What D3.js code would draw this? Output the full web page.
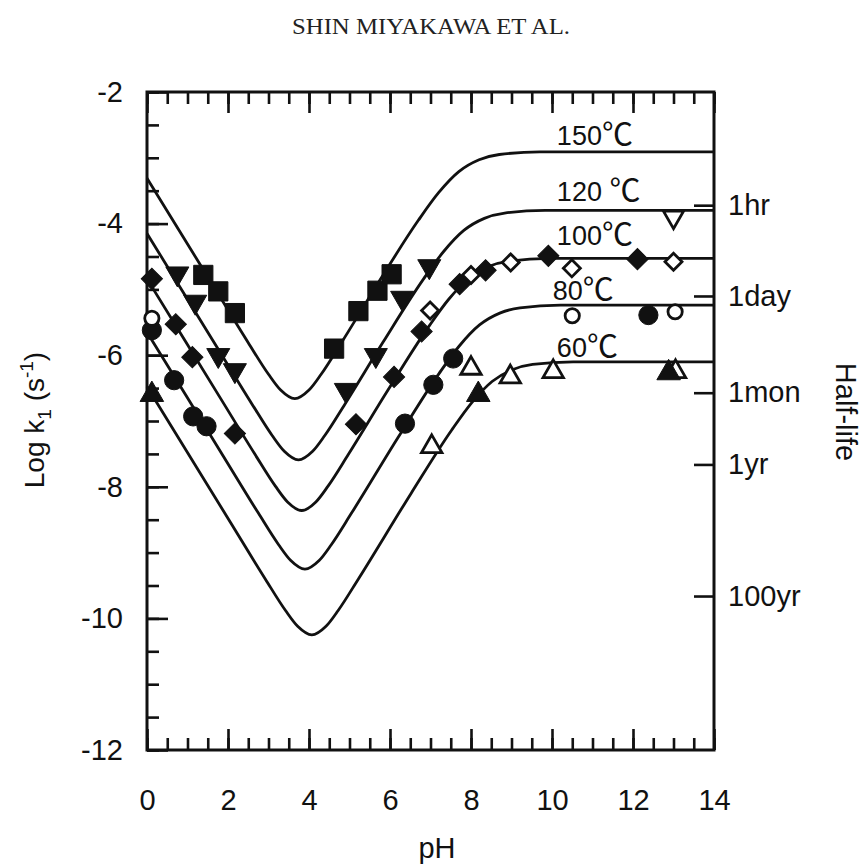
<!DOCTYPE html>
<html lang="en">
  <head>
    <meta charset="UTF-8" />
    <title>Log k1 vs pH</title>
    <style>
      body {
        margin: 0;
        background: #fff;
      }
      svg text {
        font-family: "Liberation Sans", Arial, sans-serif;
        fill: #111;
      }
      .title {
        font-family: "Liberation Serif", "Times New Roman", serif !important;
      }
    </style>
  </head>
  <body>
    <script src="https://d3js.org/d3.v7.min.js"></script>
    <svg id="chart" width="862" height="867"></svg>
    <script>
      // fitted curves, [pH, log k1]
      var curve150 = [[0,-3.31],[1.65,-4.96],[2.5,-5.81],[3.0,-6.29],[3.3,-6.53],[3.65,-6.66],[4.0,-6.53],[4.3,-6.29],[4.8,-5.81],[5.7,-4.91],[6.7,-3.95],[7.2,-3.53],[7.7,-3.21],[8.2,-3.03],[8.7,-2.95],[9.7,-2.91],[14,-2.91]];
      var curve120 = [[0,-4.15],[1.74,-5.89],[2.59,-6.74],[3.09,-7.22],[3.39,-7.46],[3.74,-7.59],[4.09,-7.46],[4.39,-7.22],[4.89,-6.74],[5.83,-5.8],[6.83,-4.84],[7.33,-4.42],[7.83,-4.1],[8.33,-3.92],[8.83,-3.84],[9.83,-3.8],[14,-3.8]];
      var curve100 = [[0,-4.84],[1.82,-6.66],[2.67,-7.51],[3.17,-7.99],[3.47,-8.23],[3.82,-8.36],[4.17,-8.23],[4.47,-7.99],[4.97,-7.51],[5.95,-6.53],[6.95,-5.57],[7.45,-5.15],[7.95,-4.83],[8.45,-4.65],[8.95,-4.57],[9.95,-4.53],[14,-4.53]];
      var curve80 = [[0,-5.65],[1.9,-7.55],[2.75,-8.4],[3.25,-8.88],[3.55,-9.12],[3.9,-9.25],[4.25,-9.12],[4.55,-8.88],[5.05,-8.4],[6.21,-7.24],[7.21,-6.28],[7.71,-5.86],[8.21,-5.54],[8.71,-5.36],[9.21,-5.28],[10.21,-5.24],[14,-5.24]];
      var curve60 = [[0,-6.48],[2.07,-8.55],[2.92,-9.4],[3.42,-9.88],[3.72,-10.12],[4.07,-10.25],[4.42,-10.12],[4.72,-9.88],[5.22,-9.4],[6.52,-8.1],[7.52,-7.14],[8.02,-6.72],[8.52,-6.4],[9.02,-6.22],[9.52,-6.14],[10.52,-6.1],[14,-6.1]];

      var curveTemps = ["150", "120 ", "100", "80", "60"];
      var labelPH = [10.12, 10.12, 10.12, 10.02, 10.12];
      var labelLogK = [-2.8, -3.66, -4.33, -5.16, -6.03];

      // measured points, [pH, log k1]
      var sq150 = [[1.39,-4.78],[1.76,-5.03],[2.17,-5.36],[4.62,-5.9],[5.22,-5.33],[5.69,-5.02],[6.04,-4.77]];
      var triDown120 = [[0.75,-4.76],[1.19,-5.19],[1.76,-6.0],[2.17,-6.23],[4.91,-6.53],[5.65,-6.0],[6.3,-5.13],[6.97,-4.65]];
      var triDownOpen120 = [[13.0,-3.9]];
      var dia100 = [[0.12,-4.84],[0.71,-5.53],[1.12,-6.03],[2.17,-7.19],[5.16,-7.05],[6.1,-6.33],[6.78,-5.64],[7.72,-4.92],[8.36,-4.71],[9.91,-4.49],[12.11,-4.54]];
      var diaOpen100 = [[6.99,-5.32],[8.0,-4.78],[8.98,-4.59],[10.49,-4.68],[13.0,-4.58]];
      var dot80 = [[0.12,-5.62],[0.67,-6.38],[1.14,-6.93],[1.47,-7.08],[6.37,-7.04],[7.07,-6.45],[7.56,-6.05],[12.38,-5.39]];
      var dotOpen80 = [[0.12,-5.44],[10.5,-5.4],[13.04,-5.34]];
      var triOpen60 = [[7.03,-7.39],[8.0,-6.2],[8.97,-6.33],[10.03,-6.25],[13.05,-6.25]];
      var tri60 = [[0.12,-6.6],[8.18,-6.6],[12.88,-6.27]];

      // half-life marks on the right axis (log k1 = log(ln2 / t))
      var halfLifeK = [-3.72, -5.1, -6.57, -7.66, -9.66];
      var halfLifeLabels = ["1hr", "1day", "1mon", "1yr", "100yr"];

      var svg = d3.select("#chart");
      var plotLeft = 147, plotRight = 714, plotTop = 92, plotBottom = 750;

      var x = d3.scaleLinear().domain([0, 14]).range([plotLeft, plotRight]);
      var y = d3.scaleLinear().domain([-12, -2]).range([plotBottom, plotTop]);

      // title
      svg.append("text")
        .attr("class", "title")
        .attr("x", 431)
        .attr("y", 34)
        .attr("text-anchor", "middle")
        .attr("textLength", 278)
        .attr("lengthAdjust", "spacingAndGlyphs")
        .style("font-size", "24px")
        .style("fill", "#222")
        .text("SHIN MIYAKAWA ET AL.");

      // axes: minor ticks every 0.5, major every 2, all pointing inward
      var minorX = d3.range(0, 14.01, 0.5);
      var minorY = d3.range(-12, -1.99, 0.5);
      var majorX = d3.range(0, 14.01, 2);
      var majorY = d3.range(-12, -1.99, 2);

      function styleAxis(g) {
        g.select(".domain").remove();
        g.selectAll(".tick line").attr("stroke", "#111").attr("stroke-width", 2.6);
        g.selectAll(".tick text").style("font-size", "29px").attr("fill", "#111");
      }

      svg.append("g").attr("transform", "translate(0," + plotBottom + ")")
        .call(d3.axisBottom(x).tickValues(minorX).tickSize(-12).tickFormat(""))
        .call(styleAxis);
      svg.append("g").attr("transform", "translate(0," + plotBottom + ")")
        .call(d3.axisBottom(x).tickValues(majorX).tickSize(-21).tickPadding(39).tickFormat(d3.format("d")))
        .call(styleAxis);
      svg.append("g").attr("transform", "translate(0," + plotTop + ")")
        .call(d3.axisTop(x).tickValues(minorX).tickSize(-12).tickFormat(""))
        .call(styleAxis);
      svg.append("g").attr("transform", "translate(0," + plotTop + ")")
        .call(d3.axisTop(x).tickValues(majorX).tickSize(-21).tickFormat(""))
        .call(styleAxis);
      svg.append("g").attr("transform", "translate(" + plotLeft + ",0)")
        .call(d3.axisLeft(y).tickValues(minorY).tickSize(-12).tickFormat(""))
        .call(styleAxis);
      svg.append("g").attr("transform", "translate(" + plotLeft + ",0)")
        .call(d3.axisLeft(y).tickValues(majorY).tickSize(-21).tickPadding(24).tickFormat(function (d) { return d; }))
        .call(styleAxis);
      svg.append("g").attr("transform", "translate(" + plotRight + ",0)")
        .call(d3.axisRight(y).tickValues(halfLifeK).tickSize(-20).tickPadding(14)
          .tickFormat(function (d, i) { return halfLifeLabels[i]; }))
        .call(styleAxis);

      // frame
      svg.append("rect")
        .attr("x", plotLeft).attr("y", plotTop)
        .attr("width", plotRight - plotLeft).attr("height", plotBottom - plotTop)
        .attr("fill", "none").attr("stroke", "#111").attr("stroke-width", 3);

      // axis titles
      var ylab = svg.append("text")
        .attr("transform", "translate(44,420) rotate(-90)")
        .attr("text-anchor", "middle")
        .style("font-size", "28px");
      ylab.append("tspan").text("Log k");
      ylab.append("tspan").attr("dy", 7).style("font-size", "19px").text("1");
      ylab.append("tspan").attr("dy", -7).text(" (s");
      ylab.append("tspan").attr("dy", -11).style("font-size", "19px").text("-1");
      ylab.append("tspan").attr("dy", 11).text(")");

      svg.append("text")
        .attr("transform", "translate(836,412) rotate(90)")
        .attr("text-anchor", "middle")
        .style("font-size", "29px")
        .text("Half-life");

      svg.append("text")
        .attr("x", 437).attr("y", 858)
        .attr("text-anchor", "middle")
        .style("font-size", "29px")
        .text("pH");

      // fitted curves
      var line = d3.line()
        .x(function (d) { return x(d[0]); })
        .y(function (d) { return y(d[1]); })
        .curve(d3.curveMonotoneX);

      svg.append("g").selectAll("path")
        .data([curve150, curve120, curve100, curve80, curve60])
        .enter().append("path")
        .attr("d", line)
        .attr("fill", "none")
        .attr("stroke", "#111")
        .attr("stroke-width", 2.8);

      // curve labels, degree-Celsius sign set in a CJK face as in the print
      var labels = svg.append("g").selectAll("text")
        .data(curveTemps)
        .enter().append("text")
        .attr("x", function (d, i) { return x(labelPH[i]); })
        .attr("y", function (d, i) { return y(labelLogK[i]); })
        .style("font-size", "27px");
      labels.append("tspan").text(function (d) { return d; });
      labels.append("tspan")
        .style("font-family", "'Noto Sans CJK JP', sans-serif")
        .style("font-size", "31px")
        .text("\u2103");

      // data markers
      var markerSets = [
        { data: sq150, type: d3.symbolSquare, size: 370, rot: 0, filled: true },
        { data: triDown120, type: d3.symbolTriangle, size: 230, rot: 180, filled: true },
        { data: triDownOpen120, type: d3.symbolTriangle, size: 175, rot: 180, filled: false },
        { data: dia100, type: d3.symbolSquare, size: 225, rot: 45, filled: true },
        { data: diaOpen100, type: d3.symbolSquare, size: 145, rot: 45, filled: false },
        { data: dot80, type: d3.symbolCircle, size: 290, rot: 0, filled: true },
        { data: dotOpen80, type: d3.symbolCircle, size: 160, rot: 0, filled: false },
        { data: triOpen60, type: d3.symbolTriangle, size: 180, rot: 0, filled: false },
        { data: tri60, type: d3.symbolTriangle, size: 240, rot: 0, filled: true }
      ];

      markerSets.forEach(function (m) {
        svg.append("g").selectAll("path")
          .data(m.data)
          .enter().append("path")
          .attr("d", d3.symbol().type(m.type).size(m.size))
          .attr("transform", function (d) {
            return "translate(" + x(d[0]) + "," + y(d[1]) + ") rotate(" + m.rot + ")";
          })
          .attr("fill", m.filled ? "#111" : "#fff")
          .attr("stroke", "#111")
          .attr("stroke-width", m.filled ? 1 : 2.8);
      });
    </script>
  </body>
</html>
